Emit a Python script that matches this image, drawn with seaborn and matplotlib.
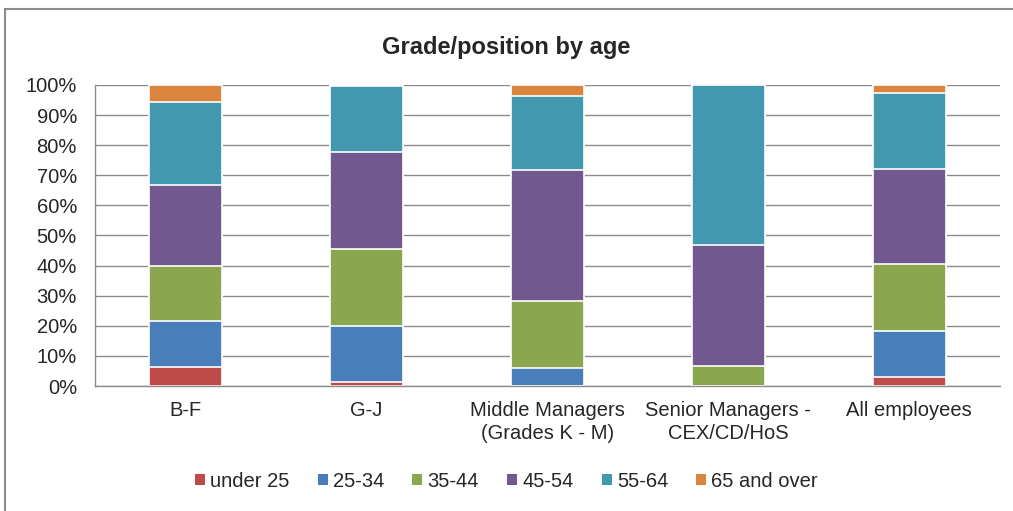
import numpy as np
import pandas as pd
import matplotlib.pyplot as plt
import seaborn as sns
from matplotlib.patches import Patch, Rectangle

# ==========================================
# Data (percent of staff in each grade)
# ==========================================

categories = ["B-F", "G-J", "Middle Managers\n(Grades K - M)",
              "Senior Managers -\nCEX/CD/HoS", "All employees"]
age_groups = ["under 25", "25-34", "35-44", "45-54", "55-64", "65 and over"]

under_25 = [6.4, 1.4, 0.0, 0.0, 3.1]
age_25_34 = [15.3, 18.5, 5.9, 0.0, 15.2]
age_35_44 = [18.2, 25.7, 22.2, 6.6, 22.1]
age_45_54 = [26.8, 32.3, 43.6, 40.1, 31.6]
age_55_64 = [27.7, 21.7, 24.6, 53.3, 25.2]
age_65_over = [5.6, 0.4, 3.7, 0.0, 2.8]

colors = ["#BE4B48", "#4A7EBB", "#8AA64F", "#71588F", "#4198AF", "#DB843D"]

# ==========================================
# Build cumulative table for stacking
# ==========================================

df = pd.DataFrame(
    [under_25, age_25_34, age_35_44, age_45_54, age_55_64, age_65_over],
    index=age_groups,
    columns=categories,
).T
cum = df.cumsum(axis=1)

sns.set_style("white")
plt.rcParams["font.family"] = ["Liberation Sans", "DejaVu Sans"]

fig = plt.figure(figsize=(10.13, 5.11), dpi=100)
ax = fig.add_axes([0.0938, 0.2446, 0.8932, 0.5891])

# draw from the top segment down so each lower band covers the one above
for group, color in reversed(list(zip(age_groups, colors))):
    sns.barplot(
        x=cum.index,
        y=cum[group].values,
        color=color,
        width=0.4,
        edgecolor="white",
        linewidth=1.2,
        saturation=1,
        ax=ax,
    )

# ==========================================
# Axes styling
# ==========================================

ax.set_ylim(0, 100)
ax.set_xlim(-0.5, len(categories) - 0.5)
ax.set_yticks(np.arange(0, 101, 10))
ax.set_yticklabels([f"{v}%" for v in range(0, 101, 10)], fontsize=14.5)
ax.set_xticks(range(len(categories)))
ax.set_xticklabels(categories, fontsize=14.5, linespacing=1.25)
ax.set_xticks(np.arange(-0.5, len(categories), 1), minor=True)
ax.tick_params(axis="x", which="major", length=0, pad=11)
ax.tick_params(axis="x", which="minor", length=6, color="#8c8c8c", direction="out")
ax.tick_params(axis="y", length=7, color="#8c8c8c", direction="out", pad=6)
ax.set_xlabel("")
ax.set_ylabel("")

ax.yaxis.grid(True, color="#8c8c8c", linewidth=1)
ax.set_axisbelow(True)
for side in ["top", "right"]:
    ax.spines[side].set_visible(False)
for side in ["left", "bottom"]:
    ax.spines[side].set_color("#8c8c8c")
    ax.spines[side].set_linewidth(1)

fig.text(0.5, 0.908, "Grade/position by age", ha="center", va="center",
         fontsize=17, fontweight="bold")

handles = [Patch(facecolor=c, edgecolor="none", label=g) for g, c in zip(age_groups, colors)]
fig.legend(handles=handles, loc="center", bbox_to_anchor=(0.5, 0.058), ncol=6,
           frameon=False, fontsize=14.5, handlelength=0.5, handleheight=0.5,
           handletextpad=0.25, columnspacing=1.4)

# outer chart frame
fig.patches.append(Rectangle((0.005, -0.05), 1.2, 1.032, transform=fig.transFigure,
                             fill=False, edgecolor="#8c8c8c", linewidth=1.5))

plt.savefig("out.png", dpi=100)
